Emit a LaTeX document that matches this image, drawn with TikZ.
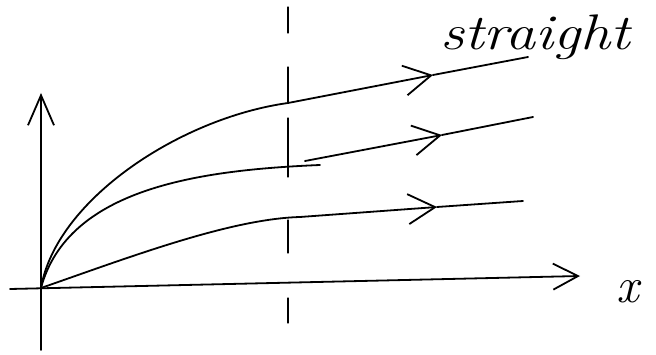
\documentclass[tikz,border=0pt]{standalone}
\usepackage{fontspec}
\usepackage{tikz}
\usetikzlibrary{arrows.meta}

\begin{document}
\begin{tikzpicture}[x=1pt, y=-1pt, line cap=round, line join=round,
                    pen/.style={line width=1.8pt},
                    barb/.style={-{Straight Barb[length=27pt,width=30pt]}},
                    hand/.style={font=\fontsize{50}{50}\selectfont\itshape, inner sep=0pt}]
                    \useasboundingbox (0,0) rectangle (656,355);
                    
                    % Axes
                    \coordinate (O) at (41,288);
                    \draw[pen, -{Straight Barb[length=30pt,width=26pt]}] (41,350) coordinate (ybot) -- (41,93) coordinate (ytip);
                    \draw[pen, -{Straight Barb[length=25pt,width=26pt]}] (10,289) coordinate (xleft) -- (580,276) coordinate (xtip);
                    \node[hand] (xlab) at (628,292) {x};
                    
                    % Dashed line
                    \foreach \a/\b in {7/33,67/103,118/177,220/253,298/323}
                        \draw[line width=1.3pt] (288,\a) -- (288,\b);
                    
                    % Curves
                    \coordinate (topkink) at (288,103);
                    \coordinate (toptip) at (433,75);
                    \coordinate (topend) at (528,57);
                    \draw[pen, barb] (O) .. controls (56,200) and (180,118) .. (topkink) -- (toptip);
                    \draw[pen] (toptip) -- (topend);
                    
                    \coordinate (midkink) at (320,165);
                    \coordinate (midstart) at (305,161);
                    \coordinate (midtip) at (442,135);
                    \coordinate (midend) at (533,117);
                    \draw[pen] (O) .. controls (68,188) and (200,170) .. (midkink);
                    \draw[pen, barb] (midstart) -- (midtip);
                    \draw[pen] (midtip) -- (midend);
                    
                    \coordinate (lowkink) at (300,217);
                    \coordinate (lowtip) at (437,207);
                    \coordinate (lowend) at (523,201);
                    \draw[pen, barb] (O) .. controls (130,257) and (230,219) .. (lowkink) -- (lowtip);
                    \draw[pen] (lowtip) -- (lowend);
                    
                    % Label
                    \node[hand, anchor=base west, xscale=1.2] (straight) at (440,50) {straight};
\end{tikzpicture}
\end{document}
